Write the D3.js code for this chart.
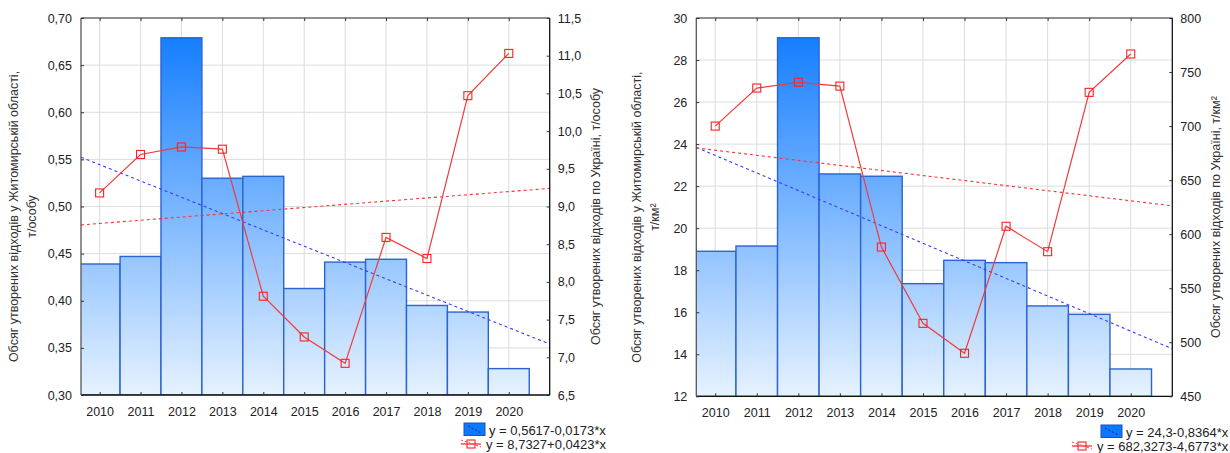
<!DOCTYPE html>
<html>
<head>
<meta charset="utf-8">
<script src="https://cdn.jsdelivr.net/npm/d3@7"></script>
<style>
  html, body { margin: 0; padding: 0; background: #fff; }
  svg { display: block; }
  text { font-family: Arial, "Liberation Sans", sans-serif; }
</style>
</head>
<body>
<svg id="chart" width="1230" height="453"></svg>
<script>
// ---------------- DATA ----------------
const years = [2010, 2011, 2012, 2013, 2014, 2015, 2016, 2017, 2018, 2019, 2020];

// Chart A: per capita
const zhytomyrPerCapita = [0.439, 0.447, 0.679, 0.530, 0.532, 0.413, 0.441, 0.444, 0.395, 0.388, 0.328];
const ukrainePerCapita  = [9.18, 9.69, 9.79, 9.76, 7.81, 7.27, 6.92, 8.59, 8.31, 10.47, 11.03];
const ticksA_left  = [0.30, 0.35, 0.40, 0.45, 0.50, 0.55, 0.60, 0.65, 0.70];
const ticksA_right = [6.5, 7.0, 7.5, 8.0, 8.5, 9.0, 9.5, 10.0, 10.5, 11.0, 11.5];
const trendA_bar  = [0.5617, -0.0173];   // intercept, slope
const trendA_line = [8.7327, 0.0423];
const legendA = ["y = 0,5617-0,0173*x", "y = 8,7327+0,0423*x"];
const titlesA = {
  left: ["Обсяг утворених відходів у Житомирській області,", "т/особу"],
  right: "Обсяг утворених відходів по Україні, т/особу"
};

// Chart B: per km²
const zhytomyrPerKm2 = [18.9, 19.15, 29.06, 22.58, 22.47, 17.36, 18.47, 18.36, 16.30, 15.9, 13.3];
const ukrainePerKm2  = [700.0, 735.2, 740.5, 737.0, 588.1, 517.5, 489.8, 607.3, 583.8, 731.2, 766.7];
const ticksB_left  = [12, 14, 16, 18, 20, 22, 24, 26, 28, 30];
const ticksB_right = [450, 500, 550, 600, 650, 700, 750, 800];
const trendB_bar  = [24.3, -0.8364];
const trendB_line = [682.3273, -4.6773];
const legendB = ["y = 24,3-0,8364*x", "y = 682,3273-4,6773*x"];
const titlesB = {
  left: ["Обсяг утворених відходів у Житомирській області,", "т/км²"],
  right: "Обсяг утворених відходів по Україні, т/км²"
};

// ---------------- RENDER ----------------
const svg = d3.select("#chart");
const loc = d3.formatLocale({decimal: ",", thousands: " ", grouping: [3], currency: ["", ""]});
const defs = svg.append("defs");

function drawChart(cfg) {
  const {id, x0, x1, y0, y1, barVals, lineVals, lTicks, rTicks, lFmt, rFmt,
         trendBar, trendLine, legend, titles, legendX, legendY} = cfg;

  const x = d3.scaleLinear().domain([2009.545, 2021.0]).range([x0, x1]);
  const yL = d3.scaleLinear().domain([lTicks[0], lTicks[lTicks.length - 1]]).range([y1, y0]);
  const yR = d3.scaleLinear().domain([rTicks[0], rTicks[rTicks.length - 1]]).range([y1, y0]);
  const step = x(2011) - x(2010);

  const g = svg.append("g");

  // gradient
  const grad = defs.append("linearGradient").attr("id", "grad" + id)
    .attr("gradientUnits", "userSpaceOnUse")
    .attr("x1", 0).attr("x2", 0).attr("y1", y0).attr("y2", y1);
  grad.append("stop").attr("offset", 0).attr("stop-color", "#0a78ff");
  grad.append("stop").attr("offset", 1).attr("stop-color", "#e6f2ff");

  defs.append("clipPath").attr("id", "clip" + id)
    .append("rect").attr("x", x0).attr("y", y0).attr("width", x1 - x0).attr("height", y1 - y0);

  // grid
  g.append("g").selectAll("line.vg").data(years).join("line")
    .attr("x1", d => x(d)).attr("x2", d => x(d)).attr("y1", y0).attr("y2", y1)
    .attr("stroke", "#dcdcdc").attr("stroke-width", 1);
  g.append("g").selectAll("line.hg").data(lTicks).join("line")
    .attr("x1", x0).attr("x2", x1).attr("y1", d => yL(d)).attr("y2", d => yL(d))
    .attr("stroke", "#dcdcdc").attr("stroke-width", 1);

  // bars
  const bars = g.append("g").attr("clip-path", `url(#clip${id})`);
  bars.selectAll("rect").data(years).join("rect")
    .attr("x", d => x(d) - step / 2)
    .attr("width", step)
    .attr("y", (d, i) => yL(barVals[i]))
    .attr("height", (d, i) => y1 - yL(barVals[i]))
    .attr("fill", `url(#grad${id})`)
    .attr("stroke", "#2b63d3").attr("stroke-width", 1.4);

  // trend lines
  const tx = [2009.545, 2021.0];
  const tl = g.append("g").attr("clip-path", `url(#clip${id})`);
  tl.append("line")
    .attr("x1", x(tx[0])).attr("x2", x(tx[1]))
    .attr("y1", yL(trendBar[0] + trendBar[1] * (tx[0] - 2009)))
    .attr("y2", yL(trendBar[0] + trendBar[1] * (tx[1] - 2009)))
    .attr("stroke", "#3a3aff").attr("stroke-width", 1.1).attr("stroke-dasharray", "3,3");
  tl.append("line")
    .attr("x1", x(tx[0])).attr("x2", x(tx[1]))
    .attr("y1", yR(trendLine[0] + trendLine[1] * (tx[0] - 2009)))
    .attr("y2", yR(trendLine[0] + trendLine[1] * (tx[1] - 2009)))
    .attr("stroke", "#ff3030").attr("stroke-width", 1.1).attr("stroke-dasharray", "3,3");

  // line series
  const line = d3.line().x((d, i) => x(years[i])).y(d => yR(d));
  g.append("path").datum(lineVals).attr("d", line)
    .attr("fill", "none").attr("stroke", "#f23a3a").attr("stroke-width", 1.2);
  g.append("g").selectAll("rect").data(lineVals).join("rect")
    .attr("x", (d, i) => x(years[i]) - 4).attr("y", d => yR(d) - 4)
    .attr("width", 8).attr("height", 8)
    .attr("fill", "none").attr("stroke", "#ff2020").attr("stroke-width", 1.1);

  // frame
  g.append("line").attr("x1", x0).attr("x2", x1).attr("y1", y0).attr("y2", y0)
    .attr("stroke", "#707070").attr("stroke-width", 1.3);
  g.append("line").attr("x1", x0).attr("x2", x1).attr("y1", y1).attr("y2", y1)
    .attr("stroke", "#111").attr("stroke-width", 1.3);
  g.append("line").attr("x1", x0).attr("x2", x0).attr("y1", y0).attr("y2", y1)
    .attr("stroke", "#555").attr("stroke-width", 1.3);
  g.append("line").attr("x1", x1).attr("x2", x1).attr("y1", y0).attr("y2", y1)
    .attr("stroke", "#111").attr("stroke-width", 1.3);

  // axes
  const axB = g.append("g").attr("transform", `translate(0,${y1})`)
    .call(d3.axisBottom(x).tickValues(years).tickFormat(d3.format("d")).tickSizeInner(-3).tickSizeOuter(0).tickPadding(12));
  const axT = g.append("g").attr("transform", `translate(0,${y0})`)
    .call(d3.axisTop(x).tickValues(years).tickFormat("").tickSizeInner(-3).tickSizeOuter(0));
  const axL = g.append("g").attr("transform", `translate(${x0},0)`)
    .call(d3.axisLeft(yL).tickValues(lTicks).tickFormat(lFmt).tickSizeInner(-3).tickSizeOuter(0).tickPadding(9));
  const axR = g.append("g").attr("transform", `translate(${x1},0)`)
    .call(d3.axisRight(yR).tickValues(rTicks).tickFormat(rFmt).tickSizeInner(-3).tickSizeOuter(0).tickPadding(8));
  [axB, axT, axL, axR].forEach(a => {
    a.select(".domain").remove();
    a.selectAll(".tick line").attr("stroke", "#333");
    a.selectAll(".tick text").attr("font-size", 12.5).attr("fill", "#222")
      .attr("font-family", "Arial, 'Liberation Sans', sans-serif");
  });

  // axis titles
  const cy = (y0 + y1) / 2 + 10;
  titles.left.forEach((t, i) => {
    const tx0 = cfg.titleLX + i * 18;
    g.append("text").attr("transform", `translate(${tx0},${cy}) rotate(-90)`)
      .attr("text-anchor", "middle").attr("font-size", 12.5).attr("fill", "#333").text(t);
  });
  g.append("text").attr("transform", `translate(${cfg.titleRX},${cy}) rotate(-90)`)
    .attr("text-anchor", "middle").attr("font-size", 12.5).attr("fill", "#333").text(titles.right);

  // legend
  const lg = g.append("g");
  lg.append("rect").attr("x", legendX).attr("y", legendY).attr("width", 21).attr("height", 12.5)
    .attr("fill", "#0a78ff").attr("stroke", "#1f4fb8").attr("stroke-width", 1);
  lg.append("line").attr("x1", legendX + 4).attr("x2", legendX + 17)
    .attr("y1", legendY + 3).attr("y2", legendY + 10)
    .attr("stroke", "#102060").attr("stroke-width", 1).attr("stroke-dasharray", "2,2");
  lg.append("text").attr("x", legendX + 25).attr("y", legendY + 11.5)
    .attr("font-size", 13).attr("fill", "#222").text(legend[0]);
  const ly = legendY + 21;
  const lx2 = legendX - 3 - cfg.legendShift;
  lg.append("line").attr("x1", lx2).attr("x2", lx2 + 20).attr("y1", ly).attr("y2", ly)
    .attr("stroke", "#ff2020").attr("stroke-width", 1.2);
  lg.append("line").attr("x1", lx2).attr("x2", lx2 + 20).attr("y1", ly - 4).attr("y2", ly + 3)
    .attr("stroke", "#ff4040").attr("stroke-width", 1).attr("stroke-dasharray", "2,2");
  lg.append("rect").attr("x", lx2 + 6).attr("y", ly - 4).attr("width", 8).attr("height", 8)
    .attr("fill", "none").attr("stroke", "#ff2020").attr("stroke-width", 1.1);
  lg.append("text").attr("x", lx2 + 25).attr("y", ly + 5)
    .attr("font-size", 13).attr("fill", "#222").text(legend[1]);
}

drawChart({
  id: "A", x0: 81, x1: 549.7, y0: 18, y1: 395,
  barVals: zhytomyrPerCapita, lineVals: ukrainePerCapita,
  lTicks: ticksA_left, rTicks: ticksA_right,
  lFmt: loc.format(".2f"), rFmt: loc.format(".1f"),
  trendBar: trendA_bar, trendLine: trendA_line,
  legend: legendA, titles: titlesA,
  titleLX: 18, titleRX: 600,
  legendX: 464, legendY: 423, legendShift: 0
});

drawChart({
  id: "B", x0: 696.3, x1: 1172.3, y0: 18, y1: 396.3,
  barVals: zhytomyrPerKm2, lineVals: ukrainePerKm2,
  lTicks: ticksB_left, rTicks: ticksB_right,
  lFmt: loc.format("d"), rFmt: loc.format("d"),
  trendBar: trendB_bar, trendLine: trendB_line,
  legend: legendB, titles: titlesB,
  titleLX: 641, titleRX: 1220,
  legendX: 1101, legendY: 425, legendShift: 26
});
</script>
</body>
</html>
